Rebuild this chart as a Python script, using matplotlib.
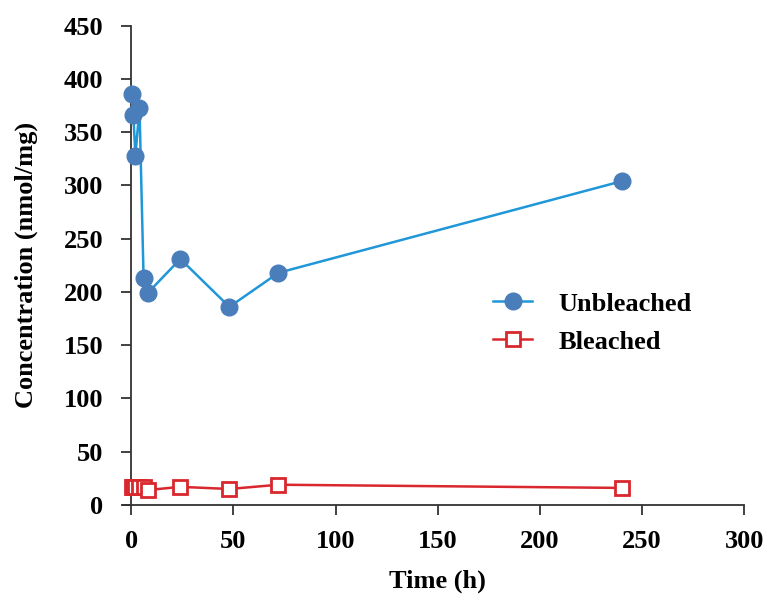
import matplotlib
matplotlib.use("Agg")
import matplotlib.pyplot as plt

# sampling times (h) and concentrations (nmol/mg)
time_h = [0.25, 1, 2, 4, 6, 8, 24, 48, 72, 240]
unbleached = [386, 366, 328, 373, 213, 199, 231, 186, 218, 304]
bleached = [17, 17, 17, 17, 17, 14, 17, 15, 19, 16]

plt.rcParams['font.family'] = ['Liberation Serif', 'DejaVu Serif']
plt.rcParams['font.weight'] = 'bold'

fig = plt.figure(figsize=(7.68, 5.99), dpi=100)
ax = fig.add_axes([0.171, 0.157, 0.798, 0.8])

ax.plot(time_h, unbleached, color='#1f97d8', lw=1.8, marker='o', ms=12,
        mfc='#4a7ebb', mec='#4a7ebb', label='Unbleached', zorder=3, clip_on=False)
ax.plot(time_h, bleached, color='#d9272e', lw=1.8, marker='s', ms=10,
        mfc='white', mec='#d9272e', mew=2, label='Bleached', zorder=3, clip_on=False)

ax.set_xlim(0, 300)
ax.set_ylim(0, 450)
ax.set_xticks(range(0, 301, 50))
ax.set_yticks(range(0, 451, 50))
ax.spines['top'].set_visible(False)
ax.spines['right'].set_visible(False)
for s in ('left', 'bottom'):
    ax.spines[s].set_color('#333333')
    ax.spines[s].set_linewidth(1.3)
ax.spines['bottom'].set_bounds(-4, 300)
ax.tick_params(direction='out', length=7, width=1.3, color='#333333',
               labelsize=19)
ax.tick_params(axis='y', pad=13)
ax.tick_params(axis='x', pad=11)
for lab in ax.get_xticklabels() + ax.get_yticklabels():
    lab.set_fontweight('bold')

ax.set_xlabel('Time (h)', fontsize=19, fontweight='bold')
ax.set_ylabel('Concentration (nmol/mg)', fontsize=19, fontweight='bold')
ax.xaxis.set_label_coords(0.5, -0.135)
ax.yaxis.set_label_coords(-0.153, 0.5)

leg = ax.legend(loc='center left', bbox_to_anchor=(0.551, 0.38), frameon=False,
                fontsize=19, handlelength=1.5, labelspacing=0.55, handletextpad=1.0)
for t in leg.get_texts():
    t.set_fontweight('bold')

fig.savefig('out.png', dpi=100)
